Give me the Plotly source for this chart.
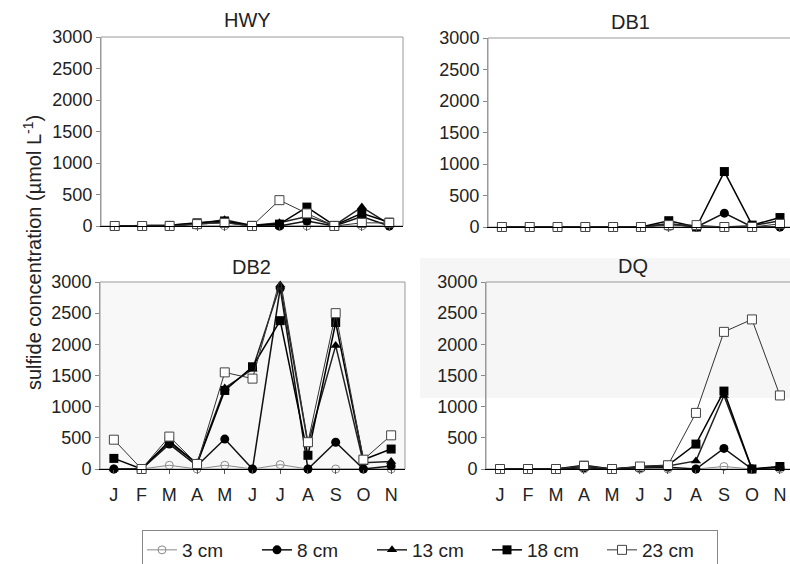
import plotly.graph_objects as go

months = ["J", "F", "M", "A", "M", "J", "J", "A", "S", "O", "N"]
depths = ["3 cm", "8 cm", "13 cm", "18 cm", "23 cm"]
panels = ["HWY", "DB1", "DB2", "DQ"]

# values per panel, per depth (J..N)
hwy_3 = [0, 0, 0, 10, 0, 0, 0, 0, 0, 0, 0]
hwy_8 = [0, 0, 0, 30, 60, 0, 0, 80, 0, 150, 0]
hwy_13 = [0, 0, 10, 40, 100, 10, 50, 150, 10, 300, 30]
hwy_18 = [0, 0, 10, 50, 80, 10, 30, 300, 10, 200, 60]
hwy_23 = [0, 0, 0, 30, 50, 0, 410, 200, 0, 50, 50]

db1_3 = [0, 0, 0, 0, 0, 0, 0, 0, 0, 0, 0]
db1_8 = [0, 0, 0, 0, 0, 0, 50, 0, 220, 0, 0]
db1_13 = [0, 0, 0, 0, 0, 0, 50, 0, 0, 20, 100]
db1_18 = [0, 0, 0, 0, 0, 0, 100, 0, 880, 30, 150]
db1_23 = [0, 0, 0, 0, 0, 0, 30, 30, 0, 0, 50]

db2_3 = [0, 0, 60, 0, 60, 0, 70, 0, 0, 0, 0]
db2_8 = [0, 0, 400, 50, 480, 0, 2900, 0, 430, 0, 50]
db2_13 = [0, 0, 420, 100, 1300, 1600, 2950, 400, 1980, 100, 120]
db2_18 = [170, 0, 450, 80, 1260, 1640, 2380, 220, 2350, 150, 320]
db2_23 = [470, 0, 520, 80, 1550, 1450, 3050, 430, 2500, 150, 540]

dq_3 = [0, 0, 0, 0, 0, 0, 0, 0, 40, 0, 0]
dq_8 = [0, 0, 0, 20, 0, 20, 30, 0, 330, 0, 30]
dq_13 = [0, 0, 0, 40, 0, 30, 50, 130, 1180, 0, 30]
dq_18 = [0, 0, 0, 60, 0, 40, 60, 400, 1250, 0, 40]
dq_23 = [0, 0, 0, 50, 0, 40, 60, 900, 2200, 2400, 1180]

data = {
    "HWY": [hwy_3, hwy_8, hwy_13, hwy_18, hwy_23],
    "DB1": [db1_3, db1_8, db1_13, db1_18, db1_23],
    "DB2": [db2_3, db2_8, db2_13, db2_18, db2_23],
    "DQ": [dq_3, dq_8, dq_13, dq_18, dq_23],
}

W, H = 790, 564
FONT = "Liberation Sans, Arial, sans-serif"

# pixel boxes for panels: (left, right, top, bottom)
boxes = {
    "HWY": (101, 403, 37, 226),
    "DB1": (488, 790, 38, 227),
    "DB2": (100, 405, 282, 469),
    "DQ": (486, 790, 282, 469),
}
xranges = {
    "HWY": [-0.5, 10.5],
    "DB1": [-0.5, 10.36],
    "DB2": [-0.5, 10.5],
    "DQ": [-0.5, 10.36],
}
title_pos = {"HWY": (247, 20), "DB1": (630, 22), "DB2": (252, 267), "DQ": (633, 266)}

styles = [
    dict(symbol="circle-open", line=dict(color="#8a8a8a", width=1), mcolor="#8a8a8a", size=8, lw=1.0, lc="#8a8a8a"),
    dict(symbol="circle", line=dict(color="#000", width=0), mcolor="#000", size=9, lw=1.5, lc="#111"),
    dict(symbol="triangle-up", line=dict(color="#000", width=0), mcolor="#000", size=9, lw=1.5, lc="#222"),
    dict(symbol="square", line=dict(color="#000", width=0), mcolor="#000", size=9, lw=1.5, lc="#000"),
    dict(symbol="square", line=dict(color="#444", width=1), mcolor="#ffffff", size=9, lw=1.0, lc="#333"),
]

fig = go.Figure()
shapes = []
annotations = []

# scan-like light backgrounds
shapes.append(dict(type="rect", xref="paper", yref="paper",
                   x0=100 / W, x1=405 / W, y0=1 - 469 / H, y1=1 - 282 / H,
                   fillcolor="#f8f8f8", line=dict(width=0), layer="below"))
shapes.append(dict(type="rect", xref="paper", yref="paper",
                   x0=420 / W, x1=1, y0=1 - 398 / H, y1=1 - 258 / H,
                   fillcolor="#f6f6f6", line=dict(width=0), layer="below"))

for i, p in enumerate(panels):
    n = "" if i == 0 else str(i + 1)
    xa, ya = "x" + n, "y" + n
    l, r, t, b = boxes[p]
    for k, d in enumerate(depths):
        s = styles[k]
        fig.add_trace(go.Scatter(
            x=list(range(len(months))), y=data[p][k],
            mode="lines+markers", name=d, showlegend=(i == 0),
            legendgroup=d,
            line=dict(color=s["lc"], width=s["lw"]),
            marker=dict(symbol=s["symbol"], size=s["size"], color=s["mcolor"], line=s["line"]),
            cliponaxis=False,
            xaxis=xa, yaxis=ya,
        ))
    xkey = "xaxis" + n
    ykey = "yaxis" + n
    bottom_row = p in ("DB2", "DQ")
    fig.layout[xkey] = dict(
        domain=[l / W, r / W], anchor=ya, range=xranges[p],
        tickmode="array", tickvals=list(range(len(months))), ticktext=months,
        showticklabels=bottom_row, ticks="outside", ticklen=4, tickcolor="#555",
        showline=True, linecolor="#000", linewidth=1.2, showgrid=False, zeroline=False,
        tickfont=dict(family=FONT, size=18, color="#222"), ticklabelstandoff=5,
    )
    fig.layout[ykey] = dict(
        domain=[1 - b / H, 1 - t / H], anchor=xa, range=[0, 3000],
        tickvals=[0, 500, 1000, 1500, 2000, 2500, 3000],
        ticks="outside", ticklen=4, tickcolor="#888",
        showline=True, linecolor="#999", linewidth=1, showgrid=False, zeroline=False,
        tickfont=dict(family=FONT, size=18, color="#222"),
    )
    # gray frame (top/right)
    shapes.append(dict(type="rect", xref=xa + " domain", yref=ya + " domain",
                       x0=0, x1=(1 if r < W else 1.05), y0=0, y1=1,
                       line=dict(color="#999", width=1), layer="below"))
    tx, ty = title_pos[p]
    annotations.append(dict(text=p, x=tx / W, y=1 - ty / H, xref="paper", yref="paper",
                            showarrow=False, xanchor="center", yanchor="middle",
                            font=dict(family=FONT, size=20, color="#222")))

annotations.append(dict(text="sulfide concentration (µmol L<sup>-1</sup>)",
                        x=32 / W, y=1 - 253 / H, xref="paper", yref="paper",
                        textangle=-90, showarrow=False, xanchor="center", yanchor="middle",
                        font=dict(family=FONT, size=20, color="#222")))

fig.update_layout(
    width=W, height=H,
    margin=dict(l=0, r=0, t=0, b=0, autoexpand=False),
    paper_bgcolor="white", plot_bgcolor="rgba(0,0,0,0)",
    shapes=shapes, annotations=annotations,
    showlegend=True,
    legend=dict(orientation="h", x=430 / W, xanchor="center", y=1 - 530 / H, yanchor="top",
                bordercolor="#888", borderwidth=1, bgcolor="white",
                font=dict(family=FONT, size=19, color="#222"),
                itemwidth=30,
                entrywidth=70, entrywidthmode="pixels", tracegroupgap=0),
)

fig.write_html("out.html")
